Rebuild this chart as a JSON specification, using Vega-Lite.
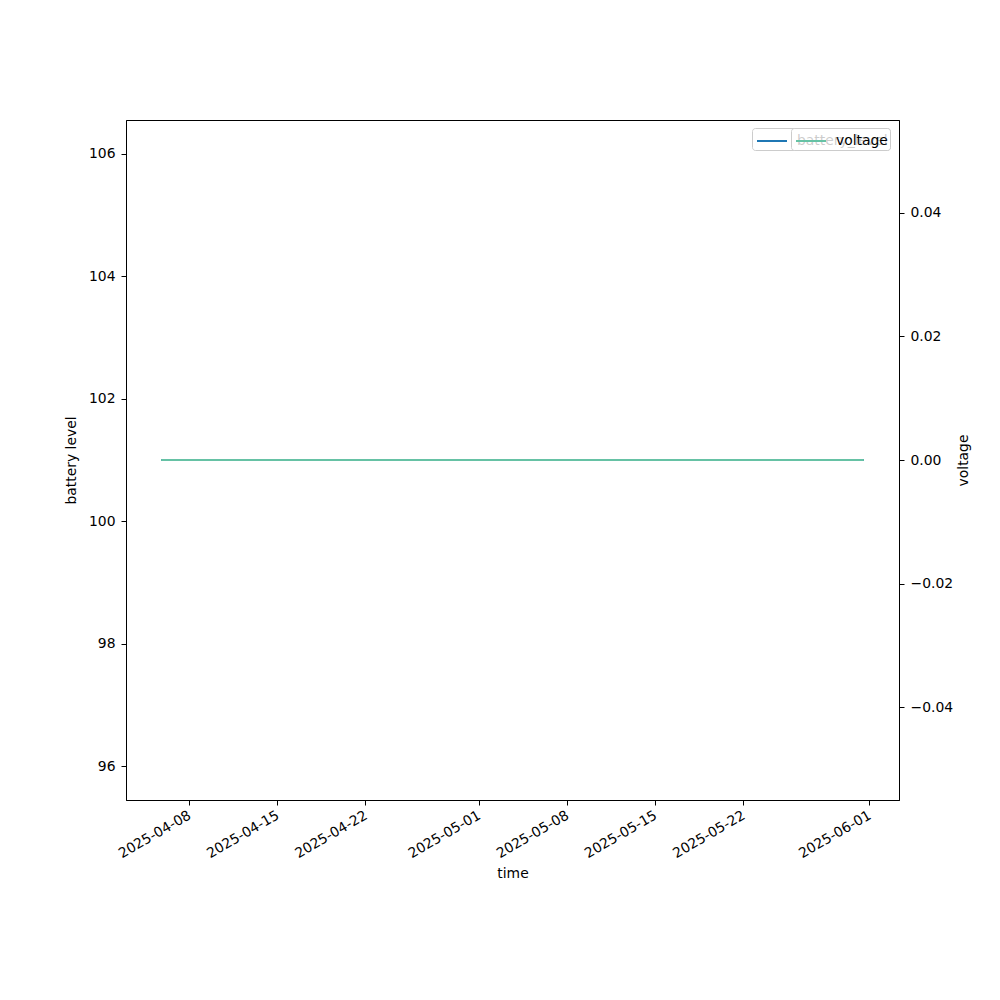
{
  "$schema": "https://vega.github.io/schema/vega-lite/v6.json",
  "width": 773,
  "height": 680,
  "autosize": {"type": "none"},
  "padding": {"left": 126, "top": 120, "right": 101, "bottom": 200},
  "background": "white",
  "data": {
    "values": [
      {"time": "2025-04-05T19:00:00", "battery_level": 101, "voltage": 0},
      {"time": "2025-05-31T14:00:00", "battery_level": 101, "voltage": 0}
    ]
  },
  "encoding": {
    "x": {
      "field": "time",
      "type": "temporal",
      "scale": {
        "domain": [
          {"year": 2025, "month": 4, "date": 3, "hours": 0},
          {"year": 2025, "month": 6, "date": 3, "hours": 9}
        ]
      },
      "axis": {
        "title": "time",
        "format": "%Y-%m-%d",
        "labelAngle": -30,
        "labelAlign": "right",
        "labelBaseline": "top",
        "labelPadding": 3,
        "labelOffset": -3,
        "titlePadding": 6,
        "values": [
          {"year": 2025, "month": 4, "date": 8},
          {"year": 2025, "month": 4, "date": 15},
          {"year": 2025, "month": 4, "date": 22},
          {"year": 2025, "month": 5, "date": 1},
          {"year": 2025, "month": 5, "date": 8},
          {"year": 2025, "month": 5, "date": 15},
          {"year": 2025, "month": 5, "date": 22},
          {"year": 2025, "month": 6, "date": 1}
        ]
      }
    }
  },
  "layer": [
    {
      "mark": {"type": "line", "strokeWidth": 2, "clip": true},
      "encoding": {
        "y": {
          "field": "battery_level",
          "type": "quantitative",
          "scale": {"domain": [95.445, 106.555], "zero": false, "nice": false},
          "axis": {
            "title": "battery level",
            "orient": "left",
            "values": [96, 98, 100, 102, 104, 106],
            "format": "d",
            "labelPadding": 6,
            "titlePadding": 10
          }
        },
        "color": {
          "datum": "battery_level",
          "type": "nominal",
          "scale": {"range": ["#1f77b4"]},
          "legend": {
            "orient": "none",
            "legendX": 626,
            "legendY": 8,
            "title": null
          }
        }
      }
    },
    {
      "mark": {"type": "line", "strokeWidth": 2, "clip": true},
      "encoding": {
        "y": {
          "field": "voltage",
          "type": "quantitative",
          "scale": {"domain": [-0.055, 0.055], "zero": false, "nice": false},
          "axis": {
            "title": "voltage",
            "orient": "right",
            "values": [-0.04, -0.02, 0, 0.02, 0.04],
            "format": ".2f",
            "labelPadding": 6,
            "titleAngle": -90,
            "titleBaseline": "bottom",
            "titlePadding": 18
          }
        },
        "color": {
          "datum": "voltage",
          "type": "nominal",
          "scale": {"range": ["#66c2a5"]},
          "legend": {
            "orient": "none",
            "legendX": 665,
            "legendY": 8,
            "title": null
          }
        }
      }
    }
  ],
  "resolve": {
    "scale": {"y": "independent", "color": "independent"},
    "axis": {"y": "independent"},
    "legend": {"color": "independent"}
  },
  "config": {
    "font": "DejaVu Sans",
    "view": {"stroke": "black", "strokeWidth": 1},
    "axis": {
      "grid": false,
      "labelFont": "DejaVu Sans",
      "titleFont": "DejaVu Sans",
      "labelFontSize": 13.9,
      "titleFontSize": 13.9,
      "titleFontWeight": "normal",
      "labelColor": "black",
      "titleColor": "black",
      "domainColor": "black",
      "tickColor": "black",
      "tickSize": 5,
      "labelPadding": 4
    },
    "legend": {
      "labelFont": "DejaVu Sans",
      "labelFontSize": 13.9,
      "labelColor": "black",
      "symbolType": "M-1.5,0H1.5",
      "symbolSize": 400,
      "symbolStrokeWidth": 2,
      "symbolOffset": 7,
      "labelOffset": 14,
      "padding": 2,
      "fillColor": "rgba(255,255,255,0.8)",
      "strokeColor": "#cccccc",
      "cornerRadius": 3,
      "rowPadding": 0
    }
  }
}
